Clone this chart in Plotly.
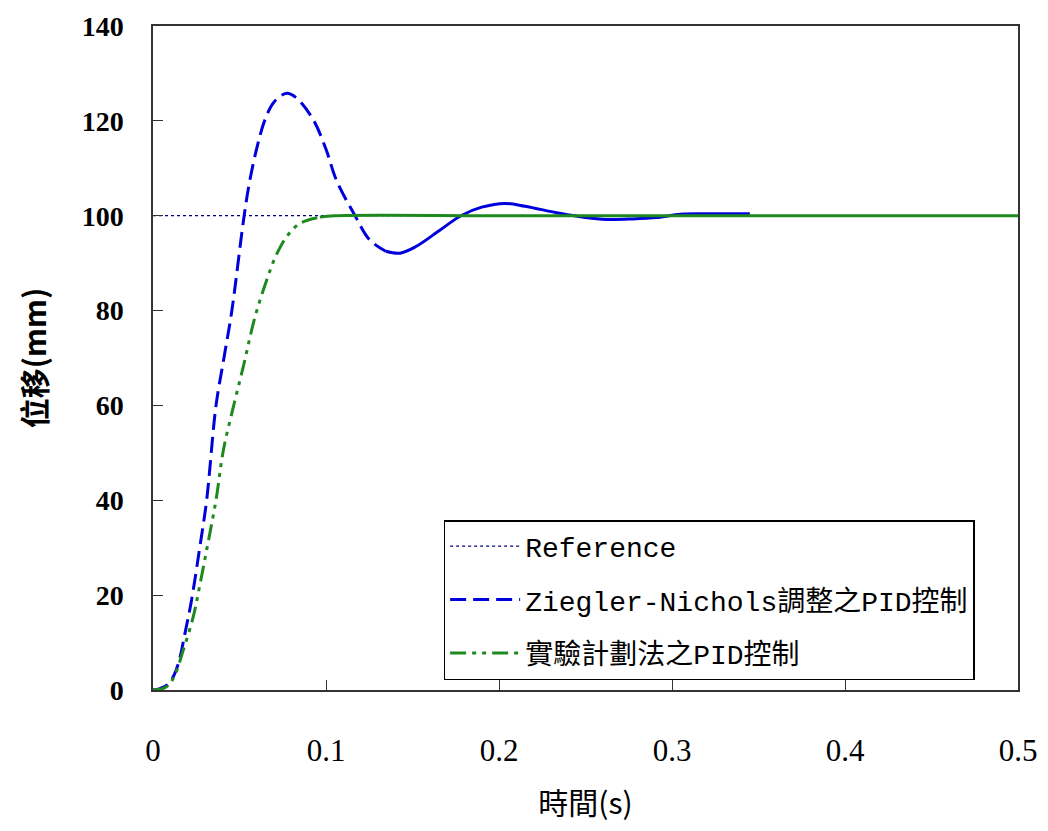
import plotly.graph_objects as go

# Ziegler-Nichols tuned PID response
zn_t = [0.0, 0.004, 0.008, 0.012, 0.0152, 0.0185, 0.0223, 0.027, 0.031, 0.0364, 0.041, 0.0455,
        0.0526, 0.056, 0.0605, 0.0647, 0.070, 0.0773, 0.083, 0.0927, 0.100, 0.106, 0.1168,
        0.125, 0.1345, 0.1428, 0.152, 0.166, 0.178, 0.190, 0.2035, 0.215, 0.235, 0.250,
        0.262, 0.275, 0.291, 0.305, 0.320, 0.345]
zn_y = [0.0, 0.3, 1.0, 3.0, 6.3, 12.0, 19.0, 30.0, 40.0, 59.9, 70.0, 79.8,
        99.8, 107.5, 115.0, 120.2, 124.0, 125.8, 124.8, 120.2, 114.0, 107.5, 100.0,
        95.0, 92.5, 92.1, 93.5, 97.0, 100.0, 101.8, 102.6, 102.0, 100.5, 99.6,
        99.2, 99.3, 99.6, 100.3, 100.4, 100.4]

# Design-of-experiments PID response
de_t = [0.0, 0.005, 0.009, 0.013, 0.0175, 0.0233, 0.027, 0.031, 0.0364, 0.0407, 0.0474,
        0.0522, 0.059, 0.0657, 0.071, 0.0773, 0.085, 0.0965, 0.105, 0.2, 0.3, 0.4, 0.5]
de_y = [0.0, 0.2, 1.0, 3.5, 8.4, 15.5, 22.0, 29.5, 40.0, 50.6, 61.1,
        68.2, 78.7, 86.4, 91.5, 95.6, 98.4, 99.7, 100.0, 100.0, 100.0, 100.0, 100.0]

# Reference
ref_t = [0.0, 0.5]
ref_y = [100, 100]

names = ["Reference", "Ziegler-Nichols調整之PID控制", "實驗計劃法之PID控制"]
x_ticks = [0, 0.1, 0.2, 0.3, 0.4, 0.5]
x_labels = ["0", "0.1", "0.2", "0.3", "0.4", "0.5"]
y_ticks = [0, 20, 40, 60, 80, 100, 120, 140]

# index where the sampled curves flatten out and the dash pattern merges into a solid line
zn_split = 24   # t = 0.1345
de_split = 17   # t = 0.0965

blue = "#0000DD"
green = "#1E8A1E"

fig = go.Figure()
fig.add_trace(go.Scatter(x=ref_t, y=ref_y, mode="lines", name=names[0], legendgroup="a",
                         line=dict(color="#000080", width=1.2, dash="3px,3px")))
fig.add_trace(go.Scatter(x=zn_t[:zn_split + 1], y=zn_y[:zn_split + 1], mode="lines",
                         name=names[1], legendgroup="b", line_shape="spline",
                         line=dict(color=blue, width=3, dash="16px,7px")))
fig.add_trace(go.Scatter(x=zn_t[zn_split:], y=zn_y[zn_split:], mode="lines",
                         name=names[1], legendgroup="b", showlegend=False, line_shape="spline",
                         line=dict(color=blue, width=3)))
fig.add_trace(go.Scatter(x=de_t[:de_split + 1], y=de_y[:de_split + 1], mode="lines",
                         name=names[2], legendgroup="c", line_shape="spline",
                         line=dict(color=green, width=3, dash="16px,6px,4px,6px,4px,6px")))
fig.add_trace(go.Scatter(x=de_t[de_split:], y=de_y[de_split:], mode="lines",
                         name=names[2], legendgroup="c", showlegend=False, line_shape="spline",
                         line=dict(color=green, width=3)))

fig.update_layout(
    width=1048, height=831,
    margin=dict(l=153, r=30, t=26, b=141),
    paper_bgcolor="white", plot_bgcolor="white",
    font=dict(family="Liberation Serif, Noto Sans CJK TC", color="black"),
    showlegend=True,
    legend=dict(x=0.336, y=0.256, xanchor="left", yanchor="top",
                bgcolor="white", bordercolor="black", borderwidth=1.5,
                font=dict(family="Liberation Mono, Noto Sans CJK TC", size=28),
                tracegroupgap=14, itemwidth=70),
)
fig.update_xaxes(range=[0, 0.5], tickvals=x_ticks, ticktext=x_labels,
                 showgrid=False, zeroline=False,
                 showline=True, linecolor="#333333", linewidth=1.5, mirror=True,
                 ticks="inside", ticklen=10, tickcolor="#333333",
                 tickfont=dict(family="Liberation Serif", size=31),
                 ticklabelstandoff=32,
                 title=dict(text="時間(s)", font=dict(family="Noto Sans CJK TC", size=30), standoff=26))
fig.update_yaxes(range=[0, 140], tickvals=y_ticks,
                 showgrid=False, zeroline=False,
                 showline=True, linecolor="#333333", linewidth=1.5, mirror=True,
                 ticks="inside", ticklen=10, tickcolor="#333333",
                 tickfont=dict(family="Liberation Serif", size=28, weight="bold"),
                 ticklabelstandoff=22,
                 title=dict(text="位移(mm)", font=dict(family="Noto Sans CJK TC", size=30, weight="bold"), standoff=26))

fig.write_html("out.html")
